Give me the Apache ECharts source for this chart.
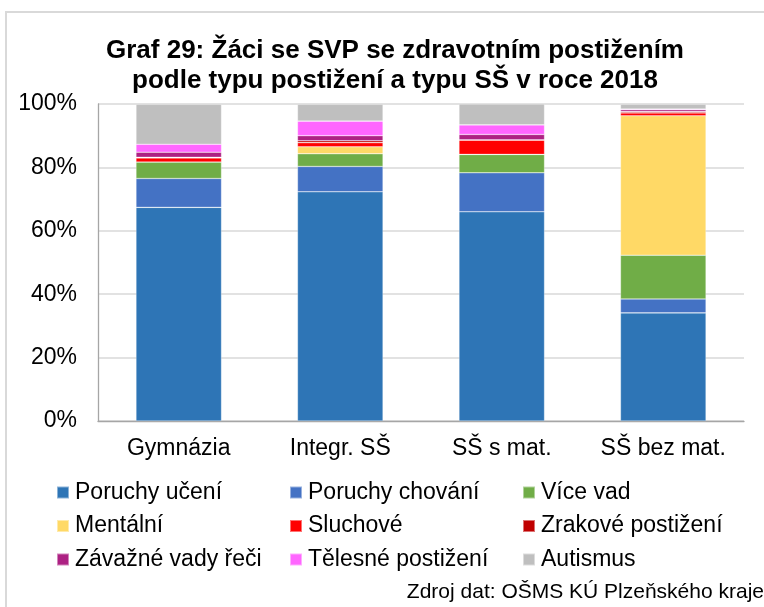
<!DOCTYPE html>
<html><head><meta charset="utf-8">
<script src="https://cdn.jsdelivr.net/npm/echarts@6/dist/echarts.min.js"></script>
<style>html,body{margin:0;padding:0;background:#fff;}#c{width:764px;height:607px;}</style>
</head><body><div id="c"></div>
<script>
const categories = ['Gymnázia', 'Integr. SŠ', 'SŠ s mat.', 'SŠ bez mat.'];
const seriesNames = ['Poruchy učení','Poruchy chování','Více vad','Mentální','Sluchové','Zrakové postižení','Závažné vady řeči','Tělesné postižení','Autismus'];
const poruchyUceni   = [67.4, 72.3, 66.0, 34.1];
const poruchyChovani = [9.1, 8.0, 12.3, 4.4];
const viceVad        = [5.2, 4.0, 5.8, 13.8];
const mentalni       = [0, 2.2, 0, 44.0];
const sluchove       = [1.3, 1.3, 4.5, 0.9];
const zrakove        = [0.2, 0.6, 0.1, 0.4];
const zavazneVady    = [1.6, 1.6, 1.7, 0.6];
const telesne        = [2.5, 4.6, 3.0, 0.2];
const autismus       = [12.6, 5.3, 6.6, 1.5];
const yTicks = ['0%','20%','40%','60%','80%','100%'];
const colors = ['#2E75B6','#4472C4','#70AD47','#FFD966','#FF0000','#C00000','#AD2183','#FF66FF','#BFBFBF'];
const values = [poruchyUceni, poruchyChovani, viceVad, mentalni, sluchove, zrakove, zavazneVady, telesne, autismus];

const F = 'Liberation Sans, Arial, sans-serif';
const chart = echarts.init(document.getElementById('c'));
const series = seriesNames.map((n, i) => ({
  name: n, type: 'bar', stack: 'a', data: values[i], barCategoryGap: '47%',
  itemStyle: { color: colors[i], borderColor: 'rgba(255,255,255,0.45)', borderWidth: 0.6 },
  emphasis: { disabled: true }
}));
function leg(names, left) {
  return {
    data: names, orient: 'vertical', left: left, top: 476, itemGap: 10.5,
    itemWidth: 12, itemHeight: 12, icon: 'rect', selectedMode: false,
    textStyle: { fontFamily: F, fontSize: 23, color: '#000', lineHeight: 23, padding: [0,0,0,1] }
  };
}
chart.setOption({
  animation: false,
  title: {
    text: 'Graf 29: Žáci se SVP se zdravotním postižením\npodle typu postižení a typu SŠ v roce 2018',
    left: 390, top: 31, textAlign: 'center',
    textStyle: { fontFamily: F, fontSize: 26, fontWeight: 'bold', color: '#000', lineHeight: 30 }
  },
  graphic: [
    { type: 'rect', shape: { x: 6, y: 12, width: 800, height: 700 }, style: { fill: 'none', stroke: '#d9d9d9', lineWidth: 2 }, silent: true },
    { type: 'text', right: 0, top: 582, style: { text: 'Zdroj dat: OŠMS KÚ Plzeňského kraje', font: '21px Liberation Sans, Arial, sans-serif', fill: '#000' } }
  ],
  legend: [
    leg([seriesNames[0], seriesNames[3], seriesNames[6]], 51),
    leg([seriesNames[1], seriesNames[4], seriesNames[7]], 284),
    leg([seriesNames[2], seriesNames[5], seriesNames[8]], 517)
  ],
  grid: { left: 98, right: 20, top: 104, bottom: 186 },
  xAxis: {
    type: 'category', data: categories,
    axisLine: { lineStyle: { color: '#a6a6a6', width: 1.3 } },
    axisTick: { show: false },
    axisLabel: { fontFamily: F, fontSize: 23, color: '#000', margin: 16, interval: 0, hideOverlap: false }
  },
  yAxis: {
    type: 'value', min: 0, max: 100, interval: 20,
    axisLine: { show: true, lineStyle: { color: '#a6a6a6', width: 1.3 } },
    axisTick: { show: false },
    splitLine: { lineStyle: { color: '#d9d9d9', width: 1.5 } },
    axisLabel: { fontFamily: F, fontSize: 23, color: '#000', margin: 21, formatter: v => yTicks[v / 20] }
  },
  series: series
});
</script></body></html>
